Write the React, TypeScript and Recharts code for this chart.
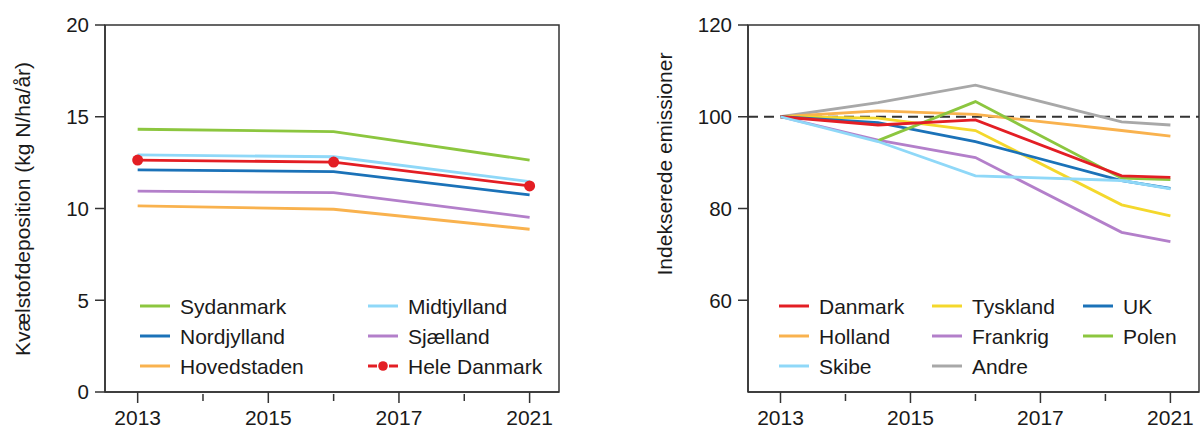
import React from 'react';
import { LineChart, Line, XAxis, YAxis, ReferenceLine, ReferenceArea } from 'recharts';

const FONT = '"Liberation Sans", Arial, Helvetica, sans-serif';
const TEXT = '#1a1a1a';
const AXIS = '#333333';

// x axis (shared by both panels)
const xTickPositions = [0, 1, 2, 3, 4, 5, 6];
const xTickLabels = ['2013', '', '2015', '', '2017', '', '2021'];

// Left panel: nitrogen deposition (kg N/ha/år)
const regionX = [0, 3, 6];
const sydanmark = [14.32, 14.19, 12.64];
const midtjylland = [12.92, 12.82, 11.46];
const nordjylland = [12.1, 12.01, 10.74];
const sjaelland = [10.95, 10.86, 9.52];
const hovedstaden = [10.14, 9.96, 8.87];
const heleDanmark = [12.64, 12.53, 11.23];
const leftYTicks = [0, 5, 10, 15, 20];

// Right panel: indexed emissions
const emissionX = [0, 1.5, 3, 5.25, 6];
const danmark = [100, 98.2, 99.3, 87.1, 86.8];
const tyskland = [100, 99.7, 97.0, 80.8, 78.4];
const uk = [100, 98.7, 94.6, 86.1, 84.4];
const holland = [100, 101.3, 100.5, 97.0, 95.8];
const frankrig = [100, 94.9, 91.1, 74.8, 72.8];
const polen = [null, 94.8, 103.3, 86.6, 86.3];
const skibe = [100, 94.6, 87.1, 86.1, 84.3];
const andre = [100, 103.1, 106.9, 98.9, 98.2];
const rightYTicks = [60, 80, 100, 120];

const leftSeries = [
  { key: 'Sydanmark', values: sydanmark, color: '#8cc63f' },
  { key: 'Midtjylland', values: midtjylland, color: '#8fd8f8' },
  { key: 'Nordjylland', values: nordjylland, color: '#1b72b8' },
  { key: 'Sjælland', values: sjaelland, color: '#b37fca' },
  { key: 'Hovedstaden', values: hovedstaden, color: '#f9b24e' },
  { key: 'Hele Danmark', values: heleDanmark, color: '#e31e24' },
];

const rightSeries = [
  { key: 'Andre', values: andre, color: '#a8a8a8' },
  { key: 'Holland', values: holland, color: '#f9b24e' },
  { key: 'Frankrig', values: frankrig, color: '#b37fca' },
  { key: 'Tyskland', values: tyskland, color: '#f4d82c' },
  { key: 'UK', values: uk, color: '#1b72b8' },
  { key: 'Polen', values: polen, color: '#8cc63f' },
  { key: 'Danmark', values: danmark, color: '#e31e24' },
  { key: 'Skibe', values: skibe, color: '#8fd8f8' },
];

const leftData = regionX.map((x, i) => {
  const row: any = { x };
  leftSeries.forEach((s) => (row[s.key] = s.values[i]));
  return row;
});
const rightData = emissionX.map((x, i) => {
  const row: any = { x };
  rightSeries.forEach((s) => (row[s.key] = s.values[i]));
  return row;
});

const colorOf = (list: any[], k: string) => list.find((s) => s.key === k).color;

const XTick = (props: any) => {
  const { x, y, payload } = props;
  const idx = xTickPositions.indexOf(payload.value);
  const label = idx >= 0 ? xTickLabels[idx] : '';
  if (!label) {
    return <line x1={x} x2={x} y1={y + 2} y2={y + 9} stroke={AXIS} strokeWidth={1.5} />;
  }
  return (
    <g>
      <line x1={x} x2={x} y1={y} y2={y + 11} stroke={AXIS} strokeWidth={1.5} />
      <text x={x} y={y + 33} textAnchor="middle" fontSize={21} fill={TEXT} fontFamily={FONT}>
        {label}
      </text>
    </g>
  );
};

const yTickStyle = { fontSize: 20.5, fill: TEXT, fontFamily: FONT };

const LegendItem = ({ x, y, color, label, marker }: any) => (
  <g>
    {marker ? (
      <g>
        <line x1={x} x2={x + 9} y1={y} y2={y} stroke={color} strokeWidth={3} />
        <circle cx={x + 15} cy={y} r={4.8} fill={color} />
        <line x1={x + 21} x2={x + 30} y1={y} y2={y} stroke={color} strokeWidth={3} />
      </g>
    ) : (
      <line x1={x} x2={x + 30} y1={y} y2={y} stroke={color} strokeWidth={3} />
    )}
    <text x={x + 40} y={y} dominantBaseline="central" fontSize={21} fill={TEXT} fontFamily={FONT}>
      {label}
    </text>
  </g>
);

const leftLegend = [
  ['Sydanmark', 'Midtjylland'],
  ['Nordjylland', 'Sjælland'],
  ['Hovedstaden', 'Hele Danmark'],
];
const rightLegend = [
  ['Danmark', 'Tyskland', 'UK'],
  ['Holland', 'Frankrig', 'Polen'],
  ['Skibe', 'Andre'],
];

export default function App() {
  return (
    <div
      style={{
        position: 'absolute',
        left: 0,
        top: 0,
        width: 1200,
        height: 430,
        overflow: 'hidden',
        background: '#ffffff',
      }}
    >
      <div style={{ position: 'absolute', left: 0, top: 0 }}>
        <LineChart width={600} height={430} data={leftData} margin={{ top: 25, right: 41, bottom: 0, left: 45 }}>
          <XAxis
            type="number"
            dataKey="x"
            domain={[-0.5, 6.45]}
            allowDataOverflow
            ticks={xTickPositions}
            interval={0}
            tickSize={0}
            tickMargin={0}
            tickLine={false}
            tick={<XTick />}
            height={38}
            axisLine={{ stroke: AXIS, strokeWidth: 1.5 }}
          />
          <YAxis
            type="number"
            domain={[0, 20]}
            allowDataOverflow
            ticks={leftYTicks}
            interval={0}
            width={60}
            tickSize={10}
            tickMargin={6}
            tick={yTickStyle}
            tickLine={{ stroke: AXIS, strokeWidth: 1.5 }}
            axisLine={{ stroke: AXIS, strokeWidth: 1.5 }}
          />
          <ReferenceArea
            x1={-0.5}
            x2={6.45}
            y1={0}
            y2={20}
            fill="none"
            fillOpacity={0}
            stroke={AXIS}
            strokeWidth={1.5}
            ifOverflow="visible"
          />
          {leftSeries.map((s) => (
            <Line
              key={s.key}
              type="linear"
              dataKey={s.key}
              stroke={s.color}
              strokeWidth={2.8}
              dot={s.key === 'Hele Danmark' ? { r: 5.5, fill: s.color, stroke: s.color, strokeWidth: 0 } : false}
              activeDot={false}
              isAnimationActive={false}
            />
          ))}
        </LineChart>
      </div>
      <div style={{ position: 'absolute', left: 600, top: 0 }}>
        <LineChart width={600} height={430} data={rightData} margin={{ top: 25, right: 1, bottom: 0, left: 88 }}>
          <XAxis
            type="number"
            dataKey="x"
            domain={[-0.5, 6.44]}
            allowDataOverflow
            ticks={xTickPositions}
            interval={0}
            tickSize={0}
            tickMargin={0}
            tickLine={false}
            tick={<XTick />}
            height={38}
            axisLine={{ stroke: AXIS, strokeWidth: 1.5 }}
          />
          <YAxis
            type="number"
            domain={[40, 120]}
            allowDataOverflow
            ticks={rightYTicks}
            interval={0}
            width={60}
            tickSize={10}
            tickMargin={6}
            tick={yTickStyle}
            tickLine={{ stroke: AXIS, strokeWidth: 1.5 }}
            axisLine={{ stroke: AXIS, strokeWidth: 1.5 }}
          />
          <ReferenceArea
            x1={-0.5}
            x2={6.44}
            y1={40}
            y2={120}
            fill="none"
            fillOpacity={0}
            stroke={AXIS}
            strokeWidth={1.5}
            ifOverflow="visible"
          />
          <ReferenceLine y={100} stroke="#333333" strokeWidth={2.2} strokeDasharray="10 6" ifOverflow="visible" />
          {rightSeries.map((s) => (
            <Line
              key={s.key}
              type="linear"
              dataKey={s.key}
              stroke={s.color}
              strokeWidth={2.8}
              dot={false}
              activeDot={false}
              connectNulls={false}
              isAnimationActive={false}
            />
          ))}
        </LineChart>
      </div>
      <svg
        width={1200}
        height={430}
        style={{ position: 'absolute', left: 0, top: 0, pointerEvents: 'none' }}
      >
        <text
          x={22}
          y={209}
          transform="rotate(-90 22 209)"
          textAnchor="middle"
          dominantBaseline="central"
          fontSize={21}
          fill={TEXT}
          fontFamily={FONT}
        >
          Kvælstofdeposition (kg N/ha/år)
        </text>
        <text
          x={664}
          y={164}
          transform="rotate(-90 664 164)"
          textAnchor="middle"
          dominantBaseline="central"
          fontSize={21}
          fill={TEXT}
          fontFamily={FONT}
        >
          Indekserede emissioner
        </text>
        {leftLegend.map((row, r) =>
          row.map((k, c) => (
            <LegendItem
              key={k}
              x={[140, 368][c]}
              y={306 + r * 30}
              color={colorOf(leftSeries, k)}
              label={k}
              marker={k === 'Hele Danmark'}
            />
          ))
        )}
        {rightLegend.map((row, r) =>
          row.map((k, c) => (
            <LegendItem
              key={k}
              x={[779, 932, 1083][c]}
              y={306 + r * 30}
              color={colorOf(rightSeries, k)}
              label={k}
            />
          ))
        )}
      </svg>
    </div>
  );
}
